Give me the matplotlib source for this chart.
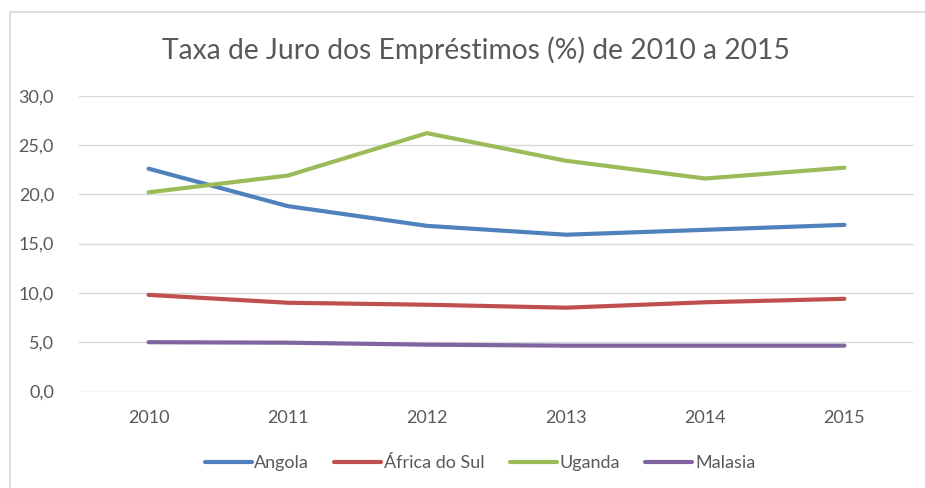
import matplotlib
matplotlib.use('Agg')
import matplotlib.pyplot as plt
from matplotlib.patches import Rectangle

plt.rcParams['font.family'] = ['Lato', 'DejaVu Sans']

### Dados
anos = ['2010', '2011', '2012', '2013', '2014', '2015']
angola = [22.6, 18.8, 16.8, 15.9, 16.4, 16.9]
africa_do_sul = [9.8, 9.0, 8.8, 8.5, 9.05, 9.4]
uganda = [20.2, 21.9, 26.2, 23.4, 21.6, 22.7]
malasia = [5.0, 4.95, 4.75, 4.65, 4.65, 4.65]

series = [('Angola', angola, '#4F81BD'),
          ('África do Sul', africa_do_sul, '#C0504D'),
          ('Uganda', uganda, '#9BBB59'),
          ('Malasia', malasia, '#8064A2')]

W, H = 925, 488
fig = plt.figure(figsize=(W / 100, H / 100), dpi=100)

# moldura do grafico (cortada a direita e em baixo)
fig.patches.append(Rectangle((10 / W, -0.1), 1.2, 1 - 12 / H + 0.1,
                             transform=fig.transFigure, fill=False,
                             edgecolor='#D9D9D9', linewidth=1.2))

ax = fig.add_axes([79 / W, 1 - 391.5 / H, (914 - 79) / W, (391.5 - 95.7) / H])

x = list(range(len(anos)))
for nome, vals, cor in series:
    ax.plot(x, vals, color=cor, linewidth=3, label=nome,
            solid_capstyle='round', solid_joinstyle='round')

ax.set_xlim(-0.5, len(anos) - 0.5)
ax.set_ylim(0, 30)
yt = [0, 5, 10, 15, 20, 25, 30]
ax.set_yticks(yt)
ax.set_yticklabels([f'{v:.1f}'.replace('.', ',') for v in yt])
ax.set_xticks(x)
ax.set_xticklabels(anos)
ax.grid(axis='y', color='#D9D9D9', linewidth=1)
ax.set_axisbelow(True)
for s in ax.spines.values():
    s.set_visible(False)
ax.tick_params(length=0, colors='#595959', labelsize=13)
ax.tick_params(axis='y', pad=18)
ax.tick_params(axis='x', pad=13)

fig.text(476 / W, 1 - 50 / H, 'Taxa de Juro dos Empréstimos (%) de 2010 a 2015',
         ha='center', va='center', fontsize=20.3, color='#595959')

leg = fig.legend(loc='center', bbox_to_anchor=(480 / W, 1 - 463 / H), ncol=4,
                 frameon=False, fontsize=13, handlelength=2.6,
                 handletextpad=0.15, columnspacing=1.4)
for t in leg.get_texts():
    t.set_color('#595959')

fig.savefig('out.png', dpi=100)
